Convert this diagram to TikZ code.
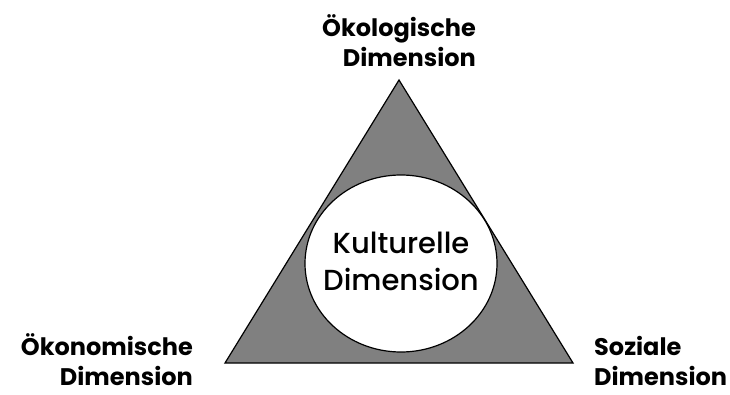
\documentclass[tikz,border=0pt]{standalone}
\usepackage{fontspec}
\setmainfont{Poppins}
\newfontfamily\medfont{Poppins Medium}
\begin{document}
\begin{tikzpicture}[x=1pt,y=1pt,
  lbl/.style={font=\fontsize{24}{30}\selectfont\bfseries, inner sep=0pt},
  tri/.style={draw=black, line width=1.2pt, fill=black!50},
  circ/.style={draw=black, line width=1.2pt, fill=white}]
\useasboundingbox (0,0) rectangle (730,394);
\coordinate (A) at (399,314);
\coordinate (B) at (225,31);
\coordinate (C) at (573,31);
\draw[tri] (A) -- (B) -- (C) -- cycle;
\draw[circ] (401,130.5) ellipse [x radius=96, y radius=88.5];
\node[font=\fontsize{29}{37}\selectfont\medfont, align=center, inner sep=0pt, anchor=base] (k) at (401,104) {Kulturelle\\Dimension};
\node[lbl, align=right, anchor=base east] (oeko) at (476,327) {Ökologische\\Dimension};
\node[lbl, align=right, anchor=base east] (oekon) at (193,9) {Ökonomische\\Dimension};
\node[lbl, align=left, anchor=base west] (soz) at (594,9) {Soziale\\Dimension};
\end{tikzpicture}
\end{document}
